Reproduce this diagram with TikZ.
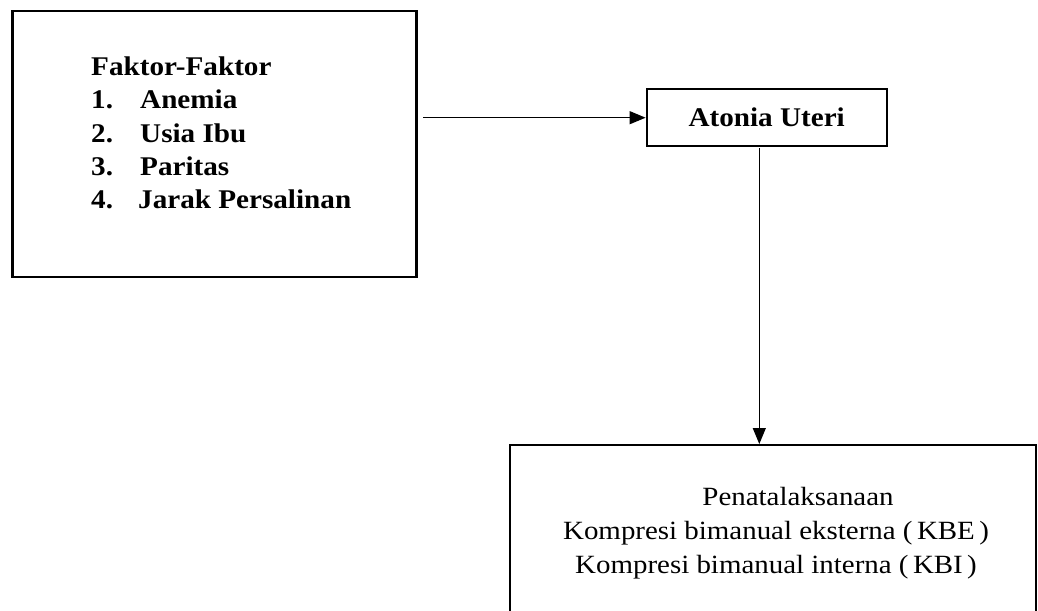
\documentclass[tikz,border=0pt]{standalone}
\usepackage{fontspec}
\setmainfont{Liberation Serif}[FakeStretch=1.08]
\newfontfamily\regfont{Liberation Serif}[FakeStretch=1.1]
\usetikzlibrary{arrows.meta}
\begin{document}
\begin{tikzpicture}[x=1pt,y=-1pt,
  box/.style={draw=black,line width=2.2pt,inner sep=0pt},
  conn/.style={draw=black,line width=1.2pt,-{Triangle[length=16pt,width=13pt]}},
  txt/.style={inner sep=0pt,anchor=base west,font=\fontsize{27}{33}\selectfont\bfseries},
  ntxt/.style={inner sep=0pt,align=center,font=\regfont\fontsize{26.3}{34}\selectfont}]
\useasboundingbox (0,0) rectangle (1038,610);
\clip (0,0) rectangle (1038,610);
\fill[white] (0,0) rectangle (1038,610);
% boxes
\node[box,line width=2.6pt,minimum width=404pt,minimum height=266pt] (faktor) at (214.7,144) {};
\node[box,minimum width=240pt,minimum height=57pt,font=\fontsize{27}{33}\selectfont\bfseries] (atonia) at (766.7,117.7) {Atonia Uteri};
\node[box,minimum width=526pt,minimum height=400pt,anchor=north west] (pen) at (508.5,444) {};
% list text
\node[txt] (t0) at (91,75) {Faktor-Faktor};
\node[txt] (n1) at (91,108.5) {1.};
\node[txt] (i1) at (140,108.5) {Anemia};
\node[txt] (n2) at (91,142) {2.};
\node[txt] (i2) at (140,142) {Usia Ibu};
\node[txt] (n3) at (91,175.3) {3.};
\node[txt] (i3) at (140,175.3) {Paritas};
\node[txt] (n4) at (91,208.5) {4.};
\node[txt] (i4) at (138,208.5) {Jarak Persalinan};
% bottom text (base anchor = last line baseline)
\node[ntxt,anchor=base] (p1) at (776,573) {\hspace*{44pt}Penatalaksanaan\\Kompresi bimanual eksterna (\,KBE\,)\\Kompresi bimanual interna (\,KBI\,)};
% connectors
\draw[conn] ([xshift=5pt]faktor.east |- atonia.west) -- (atonia.west);
\draw[conn] ([xshift=-7.4pt,yshift=-1pt]atonia.south) -- ([xshift=-7.4pt]atonia.south |- pen.north);
\end{tikzpicture}
\end{document}
